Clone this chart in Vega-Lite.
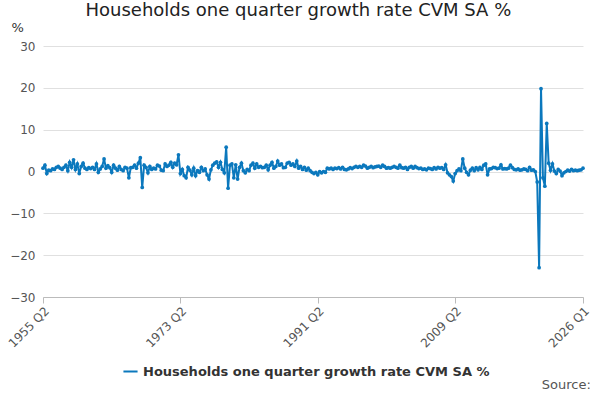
{
  "$schema": "https://vega.github.io/schema/vega-lite/v6.json",
  "title": {"text": "Households one quarter growth rate CVM SA %", "anchor": "middle", "fontSize": 18, "font": "DejaVu Sans", "fontWeight": "normal", "color": "#222", "offset": 1},
  "config": {"view": {"stroke": null}, "font": "DejaVu Sans", "padding": {"left": 5, "right": 5, "top": 2, "bottom": 0}, "concat": {"spacing": 0}},
  "vconcat": [{
    "title": {"text": "Source:", "orient": "bottom", "anchor": "end", "fontSize": 13, "fontWeight": "normal", "color": "#555", "offset": 30, "font": "DejaVu Sans"},
    "width": 540,
    "height": 251,
    "data": {"values": [
{"q":"1955 Q2","v":0.8},{"q":"1955 Q3","v":1.5},{"q":"1955 Q4","v":-0.5},
{"q":"1956 Q1","v":0.3},{"q":"1956 Q2","v":0.2},{"q":"1956 Q3","v":0.6},{"q":"1956 Q4","v":0.5},
{"q":"1957 Q1","v":1.0},{"q":"1957 Q2","v":1.2},{"q":"1957 Q3","v":0.8},{"q":"1957 Q4","v":0.5},
{"q":"1958 Q1","v":1.0},{"q":"1958 Q2","v":1.5},{"q":"1958 Q3","v":0.2},{"q":"1958 Q4","v":2.2},
{"q":"1959 Q1","v":1.0},{"q":"1959 Q2","v":2.8},{"q":"1959 Q3","v":0.5},{"q":"1959 Q4","v":1.8},
{"q":"1960 Q1","v":-0.5},{"q":"1960 Q2","v":1.2},{"q":"1960 Q3","v":2.0},{"q":"1960 Q4","v":0.8},
{"q":"1961 Q1","v":0.5},{"q":"1961 Q2","v":0.9},{"q":"1961 Q3","v":0.7},{"q":"1961 Q4","v":1.0},
{"q":"1962 Q1","v":0.5},{"q":"1962 Q2","v":1.8},{"q":"1962 Q3","v":-0.2},{"q":"1962 Q4","v":0.6},
{"q":"1963 Q1","v":1.2},{"q":"1963 Q2","v":3.0},{"q":"1963 Q3","v":0.8},{"q":"1963 Q4","v":1.4},
{"q":"1964 Q1","v":0.9},{"q":"1964 Q2","v":-0.2},{"q":"1964 Q3","v":1.5},{"q":"1964 Q4","v":0.8},
{"q":"1965 Q1","v":0.3},{"q":"1965 Q2","v":1.2},{"q":"1965 Q3","v":0.5},{"q":"1965 Q4","v":0.2},
{"q":"1966 Q1","v":1.0},{"q":"1966 Q2","v":0.8},{"q":"1966 Q3","v":-1.5},{"q":"1966 Q4","v":0.9},
{"q":"1967 Q1","v":1.0},{"q":"1967 Q2","v":1.5},{"q":"1967 Q3","v":0.8},{"q":"1967 Q4","v":2.0},
{"q":"1968 Q1","v":3.3},{"q":"1968 Q2","v":-3.8},{"q":"1968 Q3","v":1.5},{"q":"1968 Q4","v":1.0},
{"q":"1969 Q1","v":-0.3},{"q":"1969 Q2","v":1.2},{"q":"1969 Q3","v":0.5},{"q":"1969 Q4","v":0.8},
{"q":"1970 Q1","v":0.6},{"q":"1970 Q2","v":1.5},{"q":"1970 Q3","v":1.3},{"q":"1970 Q4","v":0.3},
{"q":"1971 Q1","v":0.2},{"q":"1971 Q2","v":1.8},{"q":"1971 Q3","v":1.2},{"q":"1971 Q4","v":1.5},
{"q":"1972 Q1","v":2.2},{"q":"1972 Q2","v":1.0},{"q":"1972 Q3","v":2.0},{"q":"1972 Q4","v":1.6},
{"q":"1973 Q1","v":4.0},{"q":"1973 Q2","v":-0.5},{"q":"1973 Q3","v":0.5},{"q":"1973 Q4","v":-1.0},
{"q":"1974 Q1","v":-1.5},{"q":"1974 Q2","v":1.0},{"q":"1974 Q3","v":0.3},{"q":"1974 Q4","v":-0.8},
{"q":"1975 Q1","v":0.8},{"q":"1975 Q2","v":-1.0},{"q":"1975 Q3","v":0.2},{"q":"1975 Q4","v":-0.2},
{"q":"1976 Q1","v":1.0},{"q":"1976 Q2","v":0.2},{"q":"1976 Q3","v":0.6},{"q":"1976 Q4","v":-0.8},
{"q":"1977 Q1","v":-1.8},{"q":"1977 Q2","v":0.4},{"q":"1977 Q3","v":1.5},{"q":"1977 Q4","v":2.0},
{"q":"1978 Q1","v":2.3},{"q":"1978 Q2","v":1.0},{"q":"1978 Q3","v":2.2},{"q":"1978 Q4","v":0.5},
{"q":"1979 Q1","v":-0.3},{"q":"1979 Q2","v":5.8},{"q":"1979 Q3","v":-4.0},{"q":"1979 Q4","v":1.5},
{"q":"1980 Q1","v":1.8},{"q":"1980 Q2","v":-1.5},{"q":"1980 Q3","v":1.6},{"q":"1980 Q4","v":-1.8},
{"q":"1981 Q1","v":1.0},{"q":"1981 Q2","v":2.0},{"q":"1981 Q3","v":0.2},{"q":"1981 Q4","v":-0.3},
{"q":"1982 Q1","v":0.5},{"q":"1982 Q2","v":0.2},{"q":"1982 Q3","v":1.5},{"q":"1982 Q4","v":2.0},
{"q":"1983 Q1","v":0.8},{"q":"1983 Q2","v":1.8},{"q":"1983 Q3","v":1.0},{"q":"1983 Q4","v":1.2},
{"q":"1984 Q1","v":0.9},{"q":"1984 Q2","v":1.0},{"q":"1984 Q3","v":1.5},{"q":"1984 Q4","v":0.4},
{"q":"1985 Q1","v":1.5},{"q":"1985 Q2","v":2.2},{"q":"1985 Q3","v":0.8},{"q":"1985 Q4","v":1.2},
{"q":"1986 Q1","v":2.5},{"q":"1986 Q2","v":1.5},{"q":"1986 Q3","v":1.8},{"q":"1986 Q4","v":0.9},
{"q":"1987 Q1","v":1.0},{"q":"1987 Q2","v":2.0},{"q":"1987 Q3","v":2.2},{"q":"1987 Q4","v":1.5},
{"q":"1988 Q1","v":1.8},{"q":"1988 Q2","v":1.2},{"q":"1988 Q3","v":2.5},{"q":"1988 Q4","v":0.8},
{"q":"1989 Q1","v":1.2},{"q":"1989 Q2","v":0.5},{"q":"1989 Q3","v":1.0},{"q":"1989 Q4","v":0.3},
{"q":"1990 Q1","v":0.8},{"q":"1990 Q2","v":0.2},{"q":"1990 Q3","v":-0.2},{"q":"1990 Q4","v":-0.5},
{"q":"1991 Q1","v":-0.2},{"q":"1991 Q2","v":-0.8},{"q":"1991 Q3","v":0.0},{"q":"1991 Q4","v":-0.3},
{"q":"1992 Q1","v":0.0},{"q":"1992 Q2","v":-0.2},{"q":"1992 Q3","v":0.8},{"q":"1992 Q4","v":0.6},
{"q":"1993 Q1","v":0.8},{"q":"1993 Q2","v":0.5},{"q":"1993 Q3","v":0.8},{"q":"1993 Q4","v":0.7},
{"q":"1994 Q1","v":0.9},{"q":"1994 Q2","v":0.6},{"q":"1994 Q3","v":1.0},{"q":"1994 Q4","v":0.5},
{"q":"1995 Q1","v":0.4},{"q":"1995 Q2","v":0.6},{"q":"1995 Q3","v":0.9},{"q":"1995 Q4","v":0.7},
{"q":"1996 Q1","v":1.0},{"q":"1996 Q2","v":1.2},{"q":"1996 Q3","v":1.0},{"q":"1996 Q4","v":1.2},
{"q":"1997 Q1","v":1.0},{"q":"1997 Q2","v":1.5},{"q":"1997 Q3","v":1.3},{"q":"1997 Q4","v":0.8},
{"q":"1998 Q1","v":1.0},{"q":"1998 Q2","v":1.2},{"q":"1998 Q3","v":0.9},{"q":"1998 Q4","v":1.1},
{"q":"1999 Q1","v":1.2},{"q":"1999 Q2","v":1.3},{"q":"1999 Q3","v":1.0},{"q":"1999 Q4","v":1.5},
{"q":"2000 Q1","v":1.2},{"q":"2000 Q2","v":0.8},{"q":"2000 Q3","v":0.9},{"q":"2000 Q4","v":0.8},
{"q":"2001 Q1","v":1.0},{"q":"2001 Q2","v":1.2},{"q":"2001 Q3","v":1.0},{"q":"2001 Q4","v":0.8},
{"q":"2002 Q1","v":1.5},{"q":"2002 Q2","v":0.9},{"q":"2002 Q3","v":0.8},{"q":"2002 Q4","v":1.0},
{"q":"2003 Q1","v":0.5},{"q":"2003 Q2","v":1.0},{"q":"2003 Q3","v":1.2},{"q":"2003 Q4","v":0.8},
{"q":"2004 Q1","v":1.2},{"q":"2004 Q2","v":0.9},{"q":"2004 Q3","v":0.7},{"q":"2004 Q4","v":0.8},
{"q":"2005 Q1","v":0.5},{"q":"2005 Q2","v":0.6},{"q":"2005 Q3","v":0.4},{"q":"2005 Q4","v":0.8},
{"q":"2006 Q1","v":0.7},{"q":"2006 Q2","v":0.5},{"q":"2006 Q3","v":0.9},{"q":"2006 Q4","v":0.6},
{"q":"2007 Q1","v":1.0},{"q":"2007 Q2","v":0.8},{"q":"2007 Q3","v":0.9},{"q":"2007 Q4","v":0.5},
{"q":"2008 Q1","v":1.6},{"q":"2008 Q2","v":-0.3},{"q":"2008 Q3","v":-0.8},{"q":"2008 Q4","v":-1.2},
{"q":"2009 Q1","v":-2.3},{"q":"2009 Q2","v":-0.5},{"q":"2009 Q3","v":0.2},{"q":"2009 Q4","v":0.6},
{"q":"2010 Q1","v":0.2},{"q":"2010 Q2","v":3.0},{"q":"2010 Q3","v":0.8},{"q":"2010 Q4","v":-0.2},
{"q":"2011 Q1","v":-0.8},{"q":"2011 Q2","v":0.3},{"q":"2011 Q3","v":0.8},{"q":"2011 Q4","v":0.2},
{"q":"2012 Q1","v":0.9},{"q":"2012 Q2","v":0.4},{"q":"2012 Q3","v":1.0},{"q":"2012 Q4","v":0.5},
{"q":"2013 Q1","v":1.5},{"q":"2013 Q2","v":1.8},{"q":"2013 Q3","v":-0.8},{"q":"2013 Q4","v":0.6},
{"q":"2014 Q1","v":0.7},{"q":"2014 Q2","v":1.0},{"q":"2014 Q3","v":0.9},{"q":"2014 Q4","v":0.7},
{"q":"2015 Q1","v":0.8},{"q":"2015 Q2","v":1.6},{"q":"2015 Q3","v":0.6},{"q":"2015 Q4","v":0.7},
{"q":"2016 Q1","v":0.6},{"q":"2016 Q2","v":0.8},{"q":"2016 Q3","v":1.5},{"q":"2016 Q4","v":0.9},
{"q":"2017 Q1","v":0.5},{"q":"2017 Q2","v":0.4},{"q":"2017 Q3","v":0.6},{"q":"2017 Q4","v":0.3},
{"q":"2018 Q1","v":0.4},{"q":"2018 Q2","v":0.6},{"q":"2018 Q3","v":0.5},{"q":"2018 Q4","v":0.2},
{"q":"2019 Q1","v":1.0},{"q":"2019 Q2","v":0.3},{"q":"2019 Q3","v":0.4},{"q":"2019 Q4","v":0.0},
{"q":"2020 Q1","v":-2.5},{"q":"2020 Q2","v":-23.0},{"q":"2020 Q3","v":19.8},{"q":"2020 Q4","v":-1.5},
{"q":"2021 Q1","v":-3.5},{"q":"2021 Q2","v":11.5},{"q":"2021 Q3","v":2.0},{"q":"2021 Q4","v":0.3},
{"q":"2022 Q1","v":1.8},{"q":"2022 Q2","v":0.1},{"q":"2022 Q3","v":-0.5},{"q":"2022 Q4","v":0.5},
{"q":"2023 Q1","v":0.1},{"q":"2023 Q2","v":-1.0},{"q":"2023 Q3","v":-0.3},{"q":"2023 Q4","v":0.0},
{"q":"2024 Q1","v":0.3},{"q":"2024 Q2","v":0.1},{"q":"2024 Q3","v":0.5},{"q":"2024 Q4","v":0.2},
{"q":"2025 Q1","v":0.3},{"q":"2025 Q2","v":0.2},{"q":"2025 Q3","v":0.3},{"q":"2025 Q4","v":0.4},
{"q":"2026 Q1","v":0.8}
    ]},
    "mark": {"type": "line", "strokeWidth": 2, "point": {"size": 14, "filled": true}},
    "encoding": {
      "x": {"field": "q", "type": "ordinal", "sort": null, "scale": {"type": "point", "padding": 0},
        "axis": {"title": null, "values": ["1955 Q2", "1973 Q2", "1991 Q2", "2009 Q2", "2026 Q1"], "labelAngle": -45, "labelAlign": "right", "labelBaseline": "top", "labelFontSize": 12, "labelColor": "#555", "domainColor": "#bbb", "tickColor": "#bbb", "tickSize": 6, "grid": false}},
      "y": {"field": "v", "type": "quantitative", "scale": {"domain": [-30, 30]},
        "axis": {"title": "%", "titleAngle": 0, "titleAnchor": "end", "titleAlign": "left", "titleX": -32, "titleY": -12, "titleFontWeight": "normal", "titleFontSize": 13, "titleColor": "#333", "values": [-30, -20, -10, 0, 10, 20, 30], "domain": false, "ticks": false, "labelFontSize": 12, "labelColor": "#555", "labelPadding": 8, "gridColor": "#e0e0e0"}},
      "color": {"datum": "Households one quarter growth rate CVM SA %", "type": "nominal", "scale": {"range": ["#0b78bd"]},
        "legend": {"title": null, "orient": "none", "legendX": 79, "legendY": 317, "labelFontWeight": "bold", "labelFontSize": 13, "labelColor": "#333", "symbolType": "stroke", "symbolStrokeWidth": 2, "symbolSize": 200, "labelLimit": 400}}
    }
  }]
}
